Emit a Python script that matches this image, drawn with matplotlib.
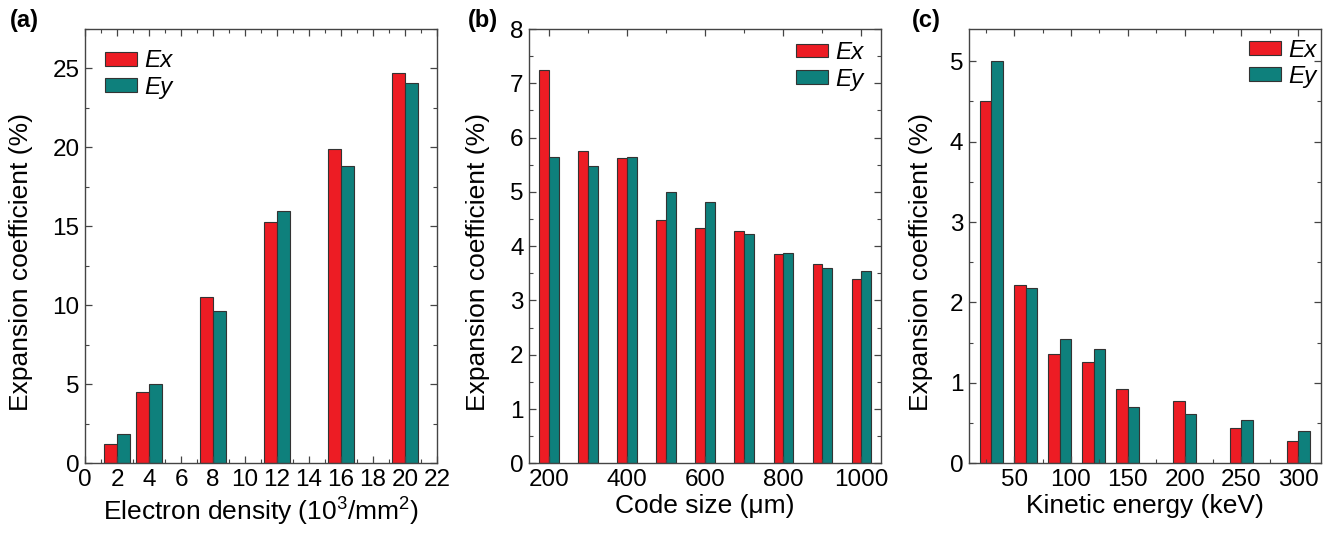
import matplotlib
matplotlib.use("Agg")
import matplotlib.pyplot as plt
import numpy as np
from matplotlib.ticker import MultipleLocator, FixedLocator
from matplotlib.patches import Patch

plt.rcParams['font.family'] = ['Liberation Sans', 'DejaVu Sans']
plt.rcParams['mathtext.fontset'] = 'custom'
plt.rcParams['mathtext.rm'] = 'Liberation Sans'

# ---- data ----
dens = [2, 4, 8, 12, 16, 20]
dens_ex = [1.25, 4.5, 10.5, 15.3, 19.9, 24.7]
dens_ey = [1.87, 5.0, 9.65, 16.0, 18.85, 24.1]

size = [200, 300, 400, 500, 600, 700, 800, 900, 1000]
size_ex = [7.24, 5.76, 5.62, 4.49, 4.33, 4.28, 3.85, 3.68, 3.39]
size_ey = [5.65, 5.47, 5.65, 5.0, 4.81, 4.22, 3.88, 3.6, 3.54]

energy = [30, 60, 90, 120, 150, 200, 250, 300]
energy_ex = [4.5, 2.22, 1.36, 1.26, 0.93, 0.77, 0.44, 0.28]
energy_ey = [5.0, 2.18, 1.54, 1.42, 0.70, 0.61, 0.535, 0.40]

RED = '#ED1C24'
TEAL = '#0E807C'
EDGE = '#333333'

W, H = 1331, 535
fig = plt.figure(figsize=(W/100, H/100), dpi=100)

def ax_at(l, r):
    b = 1 - 463.3/H
    t = 1 - 29/H
    return fig.add_axes([l/W, b, (r-l)/W, t-b])

def style(ax):
    for s in ax.spines.values():
        s.set_color('#444444')
        s.set_linewidth(1.0)
    ax.tick_params(which='both', direction='in', top=True, right=True,
                   color='#444444', labelsize=17.5, pad=4)
    ax.tick_params(which='major', length=5, width=0.9)
    ax.tick_params(which='minor', length=3, width=0.8)

def bars(ax, x, ex, ey, w, offset):
    x = np.array(x, dtype=float)
    ax.bar(x - offset, ex, width=w, color=RED, edgecolor=EDGE, linewidth=0.8)
    ax.bar(x + offset, ey, width=w, color=TEAL, edgecolor=EDGE, linewidth=0.8)

def legend(ax, anchor):
    handles = [Patch(facecolor=RED, edgecolor=EDGE, linewidth=0.8, label='Ex'),
               Patch(facecolor=TEAL, edgecolor=EDGE, linewidth=0.8, label='Ey')]
    leg = ax.legend(handles=handles, loc='upper left', bbox_to_anchor=anchor, frameon=False,
                    borderaxespad=0, borderpad=0,
                    handlelength=1.32, handleheight=0.5, handletextpad=0.3,
                    labelspacing=0.14, prop={'style': 'italic', 'size': 17.5})
    return leg

ylab = 'Expansion coefficient (%)'
LS = 19
LABEL_Y = 0.463

# ---- (a) ----
ax1 = ax_at(85, 437)
bars(ax1, dens, dens_ex, dens_ey, 0.8, 0.4)
ax1.set_xlim(0, 22)
ax1.set_ylim(0, 27.5)
ax1.xaxis.set_major_locator(MultipleLocator(2))
ax1.xaxis.set_minor_locator(MultipleLocator(1))
ax1.yaxis.set_major_locator(MultipleLocator(5))
ax1.yaxis.set_minor_locator(MultipleLocator(2.5))
style(ax1)
ax1.set_xlabel(r'Electron density (10$^3$/mm$^2$)', fontsize=LS, labelpad=2)
ax1.set_ylabel(ylab, fontsize=LS)
ax1.yaxis.set_label_coords(-0.148, LABEL_Y)
legend(ax1, (0.057, 0.953))

# ---- (b) ----
ax2 = ax_at(529.3, 881)
bars(ax2, size, size_ex, size_ey, 25, 12.5)
ax2.set_xlim(150, 1050)
ax2.set_ylim(0, 8)
ax2.xaxis.set_major_locator(FixedLocator([200, 400, 600, 800, 1000]))
ax2.xaxis.set_minor_locator(FixedLocator([300, 500, 700, 900]))
ax2.yaxis.set_major_locator(MultipleLocator(1))
ax2.yaxis.set_minor_locator(MultipleLocator(0.5))
style(ax2)
ax2.set_xlabel('Code size (\u03bcm)', fontsize=LS, labelpad=2)
ax2.set_ylabel(ylab, fontsize=LS)
ax2.yaxis.set_label_coords(-0.112, LABEL_Y)
legend(ax2, (0.758, 0.972))

# ---- (c) ----
ax3 = ax_at(968.7, 1321)
bars(ax3, energy, energy_ex, energy_ey, 10, 5)
ax3.set_xlim(10, 320)
ax3.set_ylim(0, 5.4)
ax3.xaxis.set_major_locator(FixedLocator([50, 100, 150, 200, 250, 300]))
ax3.xaxis.set_minor_locator(FixedLocator([25, 75, 125, 175, 225, 275]))
ax3.yaxis.set_major_locator(MultipleLocator(1))
ax3.yaxis.set_minor_locator(MultipleLocator(0.5))
style(ax3)
ax3.set_xlabel('Kinetic energy (keV)', fontsize=LS, labelpad=2)
ax3.set_ylabel(ylab, fontsize=LS)
ax3.yaxis.set_label_coords(-0.101, LABEL_Y)
legend(ax3, (0.796, 0.978))

# panel labels
for x, lab in [(10, '(a)'), (468, '(b)'), (912, '(c)')]:
    fig.text(x/W, 1 - 21/H, lab, fontsize=17, fontweight='bold', va='center', ha='left')

fig.savefig('out.png', dpi=100)
